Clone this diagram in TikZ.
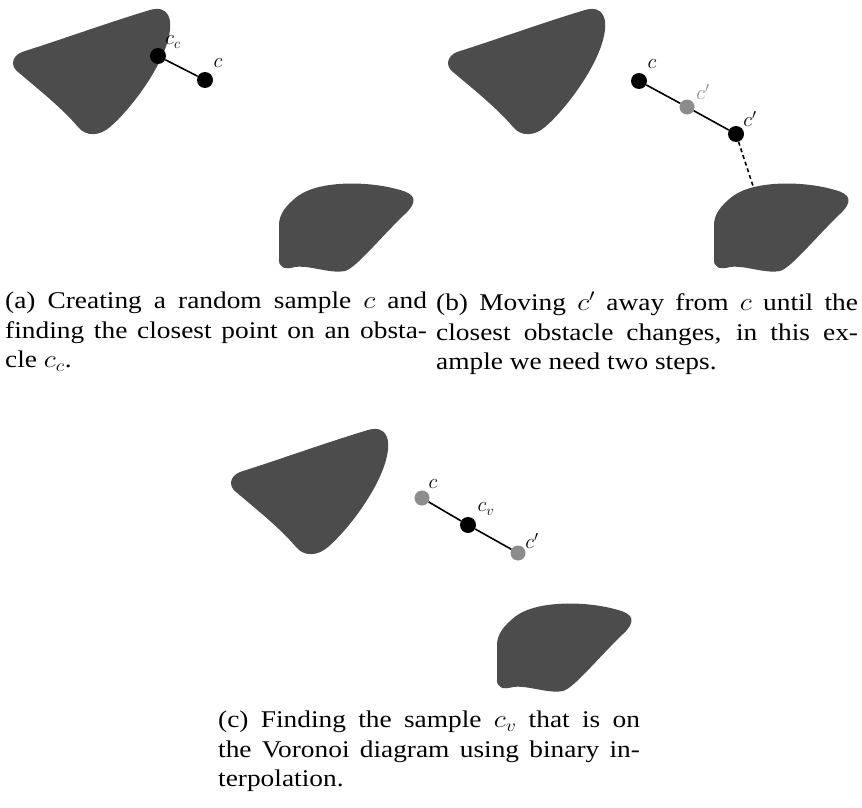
\documentclass[tikz,border=0pt]{standalone}
\usepackage{graphicx}
\usepackage{fontspec}
\setmainfont{Liberation Serif}
\newcommand{\capbox}[1]{\scalebox{1.14}[1]{\parbox{370pt}{\fontsize{24}{29.5}\selectfont\tolerance=9999 #1}}}
\begin{document}
\begin{tikzpicture}[x=1pt,y=-1pt,
  obst/.style={fill=black!70,draw=none},
  blackpt/.style={circle,fill=black,inner sep=0pt,minimum size=16pt},
  graypt/.style={circle,fill=black!45,inner sep=0pt,minimum size=15pt},
  seg/.style={line width=1.6pt},
  lbl/.style={font=\fontsize{20}{20}\selectfont,inner sep=1pt},
  captext/.style={anchor=north west,inner sep=0pt}]
\useasboundingbox (0,0) rectangle (862,808);
\def\blobA{(22,52) .. controls (60,40) and (110,22) .. (150,10) .. controls (168,5) and (174,18) .. (168,40) .. controls (160,70) and (130,110) .. (110,127) .. controls (100,136) and (86,137) .. (78,127) .. controls (62,108) and (38,89) .. (18,72) .. controls (10,66) and (12,56) .. (22,52) -- cycle}
\def\blobB{(279,225) -- (279,258) .. controls (278,268) and (285,270) .. (295,267) .. controls (310,265) and (330,274) .. (345,271) .. controls (356,268) and (380,238) .. (405,214) .. controls (418,202) and (416,194) .. (400,190) .. controls (370,181) and (320,180) .. (298,196) .. controls (285,206) and (279,215) .. (279,225) -- cycle}
% panel (a)
\begin{scope}
  \fill[obst] \blobA;
  \fill[obst] \blobB;
  \node[blackpt] (acc) at (158,56) {};
  \node[blackpt] (ac) at (205,80) {};
  \draw[seg] (acc) -- (ac);
  \node[lbl] (acclab) at (173,42) {$c_c$};
  \node[lbl] (aclab) at (218,63) {$c$};
\end{scope}
% panel (b)
\begin{scope}[shift={(435,0)}]
  \fill[obst] \blobA;
  \fill[obst] \blobB;
  \node[blackpt] (bc) at (204,81) {};
  \node[graypt] (bcp1) at (252,107) {};
  \node[blackpt] (bcp2) at (301,134) {};
  \coordinate (bend) at (318,186);
  \draw[seg] (bc) -- (bcp1) -- (bcp2);
  \draw[seg,dash pattern=on 4pt off 3pt] (bcp2) -- (bend);
  \node[lbl] (bclab) at (217,64) {$c$};
  \node[lbl,text=black!45] (bcp1lab) at (268,92) {$c'$};
  \node[lbl] (bcp2lab) at (315,119) {$c'$};
\end{scope}
% panel (c)
\begin{scope}[shift={(218,420)}]
  \fill[obst] \blobA;
  \fill[obst] \blobB;
  \node[graypt] (cc) at (204,78) {};
  \node[blackpt] (ccv) at (250,105) {};
  \node[graypt] (ccp) at (300,133) {};
  \draw[seg] (cc) -- (ccv) -- (ccp);
  \node[lbl] (cclab) at (215,64) {$c$};
  \node[lbl] (ccvlab) at (268,89) {$c_v$};
  \node[lbl] (ccplab) at (314,121) {$c'$};
\end{scope}
% captions
\node[captext] (capa) at (5,292) {\capbox{(a) Creating a random sample $c$ and\linebreak finding the closest point on an obsta-\linebreak cle $c_c$.}};
\node[captext] (capb) at (436,292) {\capbox{(b) Moving $c'$ away from $c$ until the\linebreak closest obstacle changes, in this ex-\linebreak ample we need two steps.}};
\node[captext] (capc) at (218,711) {\capbox{(c) Finding the sample $c_v$ that is on\linebreak the Voronoi diagram using binary in-\linebreak terpolation.}};
\end{tikzpicture}
\end{document}
